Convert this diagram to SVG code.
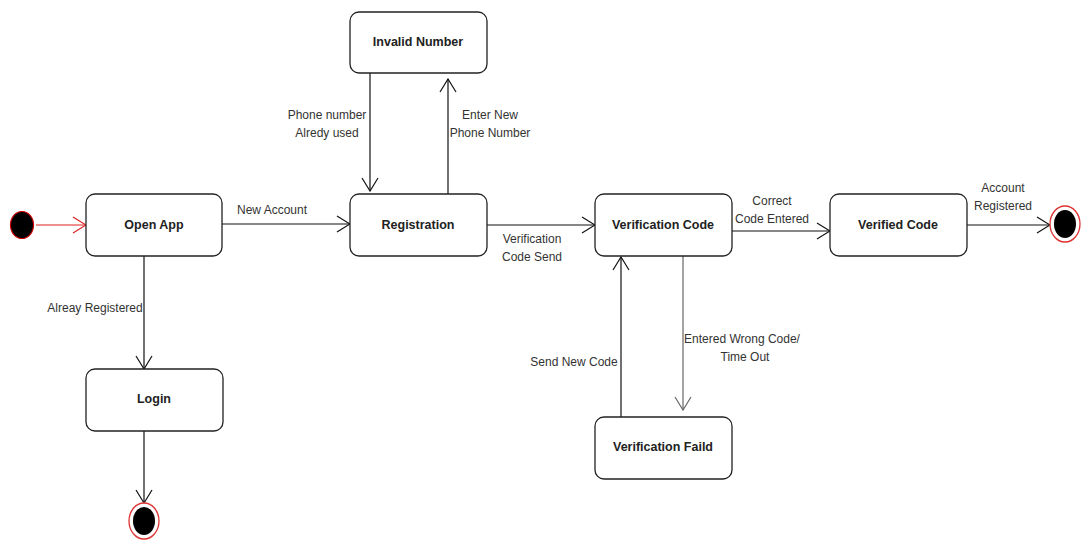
<svg xmlns="http://www.w3.org/2000/svg" width="1084" height="541" viewBox="0 0 1084 541">
<defs>
<style>
.node rect{fill:#fff;stroke:#222;stroke-width:1.3}
.name{font-family:"Liberation Sans",Arial,sans-serif;font-size:12.5px;font-weight:bold;fill:#222;text-anchor:middle}
.lbl{font-family:"Liberation Sans",Arial,sans-serif;font-size:12px;fill:#333;text-anchor:middle}
.edge{fill:none;stroke:#111;stroke-width:1.2}
</style>
<marker id="arr" viewBox="0 0 15 18" refX="14" refY="9" markerWidth="15" markerHeight="18" orient="auto" markerUnits="userSpaceOnUse"><path d="M1,1 L14,9 L1,17" fill="none" stroke="#111" stroke-width="1.2"/></marker>
<marker id="arrRed" viewBox="0 0 15 18" refX="14" refY="9" markerWidth="15" markerHeight="18" orient="auto" markerUnits="userSpaceOnUse"><path d="M1,1 L14,9 L1,17" fill="none" stroke="#d22" stroke-width="1.2"/></marker>
<marker id="arrGray" viewBox="0 0 15 18" refX="14" refY="9" markerWidth="15" markerHeight="18" orient="auto" markerUnits="userSpaceOnUse"><path d="M1,1 L14,9 L1,17" fill="none" stroke="#666" stroke-width="1.2"/></marker>
</defs>
<rect width="1084" height="541" fill="#fff"/>
<g id="connectors">
<line class="edge" x1="36" y1="225" x2="86" y2="225" style="stroke:#d22" marker-end="url(#arrRed)"/>
<line class="edge" x1="222" y1="224" x2="350" y2="224" marker-end="url(#arr)"/>
<line class="edge" x1="144" y1="256" x2="144" y2="369" marker-end="url(#arr)"/>
<line class="edge" x1="144" y1="431" x2="144" y2="503" marker-end="url(#arr)"/>
<line class="edge" x1="370" y1="73" x2="370" y2="191" marker-end="url(#arr)"/>
<line class="edge" x1="448" y1="194" x2="448" y2="79" marker-end="url(#arr)"/>
<line class="edge" x1="487" y1="225" x2="595" y2="225" marker-end="url(#arr)"/>
<line class="edge" x1="732" y1="231" x2="830" y2="231" marker-end="url(#arr)"/>
<line class="edge" x1="967" y1="225" x2="1050" y2="225" marker-end="url(#arr)"/>
<line class="edge" x1="683" y1="256" x2="683" y2="410" style="stroke:#666" marker-end="url(#arrGray)"/>
<line class="edge" x1="621" y1="417" x2="621" y2="257" marker-end="url(#arr)"/>
<text class="lbl" x="272" y="214">New Account</text>
<text class="lbl" x="95" y="312">Alreay Registered</text>
<text class="lbl" x="327" y="119">Phone number</text>
<text class="lbl" x="327" y="137">Alredy used</text>
<text class="lbl" x="490" y="119">Enter New</text>
<text class="lbl" x="490" y="137">Phone Number</text>
<text class="lbl" x="532" y="243">Verification</text>
<text class="lbl" x="532" y="261">Code Send</text>
<text class="lbl" x="772" y="205">Correct</text>
<text class="lbl" x="772" y="223">Code Entered</text>
<text class="lbl" x="1003" y="192">Account</text>
<text class="lbl" x="1003" y="210">Registered</text>
<text class="lbl" x="742" y="343">Entered Wrong Code/</text>
<text class="lbl" x="745" y="361">Time Out</text>
<text class="lbl" x="574" y="366">Send New Code</text>
</g>
<g id="start">
<ellipse cx="22" cy="225" rx="11.5" ry="13.5" fill="#000" stroke="#c00" stroke-width="1.2"/>
</g>
<g id="open-app" class="node"><rect x="86" y="194" width="136" height="62" rx="9"/><text class="name" x="154" y="229">Open App</text></g>
<g id="registration" class="node"><rect x="350" y="194" width="137" height="62" rx="9"/><text class="name" x="418" y="229">Registration</text></g>
<g id="invalid-number" class="node"><rect x="350" y="12" width="137" height="61" rx="9"/><text class="name" x="418" y="46">Invalid Number</text></g>
<g id="verification-code" class="node"><rect x="595" y="194" width="137" height="62" rx="9"/><text class="name" x="663" y="229">Verification Code</text></g>
<g id="verified-code" class="node"><rect x="830" y="194" width="137" height="62" rx="9"/><text class="name" x="898" y="229">Verified Code</text></g>
<g id="verification-faild" class="node"><rect x="595" y="417" width="137" height="62" rx="9"/><text class="name" x="663" y="451">Verification Faild</text></g>
<g id="login" class="node"><rect x="86" y="369" width="137" height="62" rx="9"/><text class="name" x="154" y="403">Login</text></g>
<g id="end-login">
<ellipse cx="144" cy="521" rx="15" ry="18" fill="#fff" stroke="#d33" stroke-width="1.3"/>
<ellipse cx="144" cy="521" rx="11" ry="14" fill="#000"/>
</g>
<g id="end-registered">
<ellipse cx="1065" cy="224" rx="15" ry="18" fill="#fff" stroke="#d33" stroke-width="1.3"/>
<ellipse cx="1065" cy="224" rx="11" ry="14" fill="#000"/>
</g>
</svg>
